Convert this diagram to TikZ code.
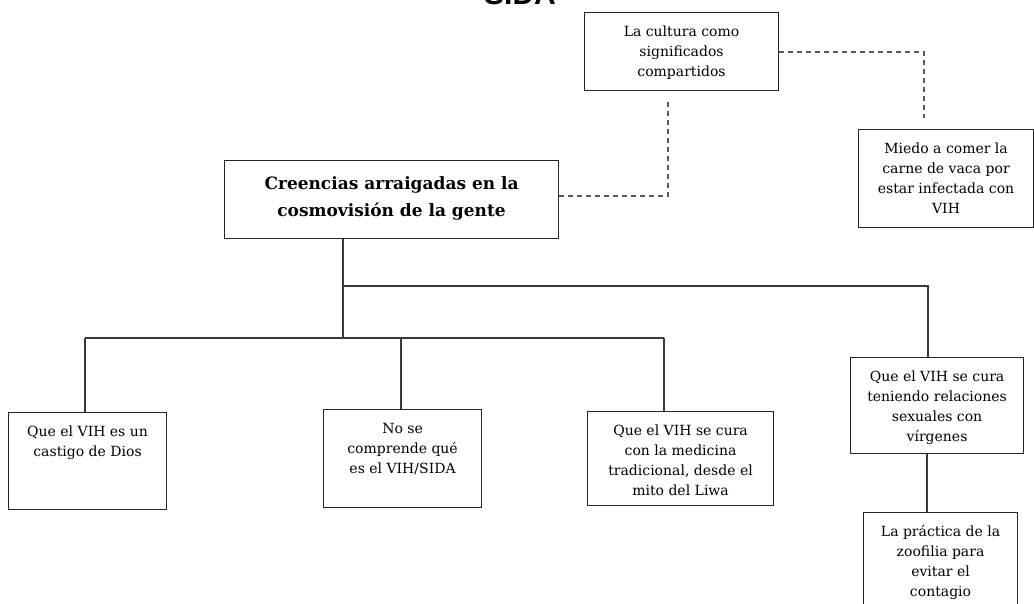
\documentclass[tikz,border=0pt]{standalone}
\usepackage{fontspec}
\setmainfont{DejaVu Serif}
\newfontfamily\titlefont{Liberation Sans}
\definecolor{boxcol}{HTML}{262626}
\definecolor{linecol}{HTML}{3A3A3A}
\definecolor{dashcol}{HTML}{595959}
\newcommand{\boxtext}[3]{\parbox[c][#2][t]{#1}{\centering\vspace*{10pt}\strut#3}}
\tikzset{
  boxnode/.style={draw=boxcol, line width=1.1pt, inner sep=0pt, anchor=north west,
    font=\fontsize{14}{20}\selectfont},
  mainnode/.style={boxnode, font=\bfseries\fontsize{17}{27}\selectfont},
  link/.style={draw=linecol, line width=1.1pt},
  dashlink/.style={draw=dashcol, line width=1.1pt, dash pattern=on 5pt off 4pt},
  titlenode/.style={font=\titlefont\bfseries\fontsize{30}{30}\selectfont, anchor=base, inner sep=0pt}
}
\begin{document}
\begin{tikzpicture}[x=1pt,y=-1pt]
\useasboundingbox (0,0) rectangle (1034,604);
\fill[white] (0,0) rectangle (1034,604);
\node[titlenode] (title) at (520,4.5) {SIDA};
\node[boxnode] (cult) at (584,12) {\boxtext{194pt}{78pt}{La cultura como\\ significados\\ compartidos}};
\node[mainnode] (main) at (224,160) {\parbox[c][78pt][t]{334pt}{\centering\vspace*{10pt}\strut Creencias arraigadas en la\\ cosmovisión de la gente}};
\node[boxnode] (miedo) at (858,129) {\boxtext{175pt}{98pt}{Miedo a comer la\\ carne de vaca por\\ estar infectada con\\ VIH}};
\node[boxnode] (q1) at (8,412) {\boxtext{158pt}{97pt}{Que el VIH es un\\ castigo de Dios}};
\node[boxnode] (q2) at (323,409) {\boxtext{158pt}{98pt}{No se\\ comprende qué\\ es el VIH/SIDA}};
\node[boxnode] (q3) at (587,411) {\boxtext{186pt}{94pt}{Que el VIH se cura\\ con la medicina\\ tradicional, desde el\\ mito del Liwa}};
\node[boxnode] (q4) at (850,357) {\boxtext{173pt}{96pt}{Que el VIH se cura\\ teniendo relaciones\\ sexuales con\\ vírgenes}};
\node[boxnode] (q5) at (863,512) {\boxtext{154pt}{110pt}{La práctica de la\\ zoofilia para\\ evitar el\\ contagio}};
% junctions
\coordinate (bar) at (343,338);
\coordinate (b1) at (85,338);
\coordinate (b2) at (401,338);
\coordinate (b3) at (664,338);
\coordinate (u0) at (343,286);
\coordinate (u1) at (928,286);
\coordinate (v) at (927,0);
\coordinate (d1) at (668,196);
\coordinate (d2) at (924,52);
% solid connectors
\draw[link] (main.south -| bar) -- (bar);
\draw[link] (b1) -- (b3);
\draw[link] (b1) -- (b1 |- q1.north);
\draw[link] (b2) -- (b2 |- q2.north);
\draw[link] (b3) -- (b3 |- q3.north);
\draw[link] (u0) -- (u1) -- (u1 |- q4.north);
\draw[link] (v |- q4.south) -- (v |- q5.north);
% dashed connectors
\draw[dashlink, shorten >=8pt] (d1 -| main.east) -- (d1) -- (d1 |- cult.south);
\draw[dashlink, shorten >=11pt] (d2 -| cult.east) -- (d2) -- (d2 |- miedo.north);
\end{tikzpicture}
\end{document}
